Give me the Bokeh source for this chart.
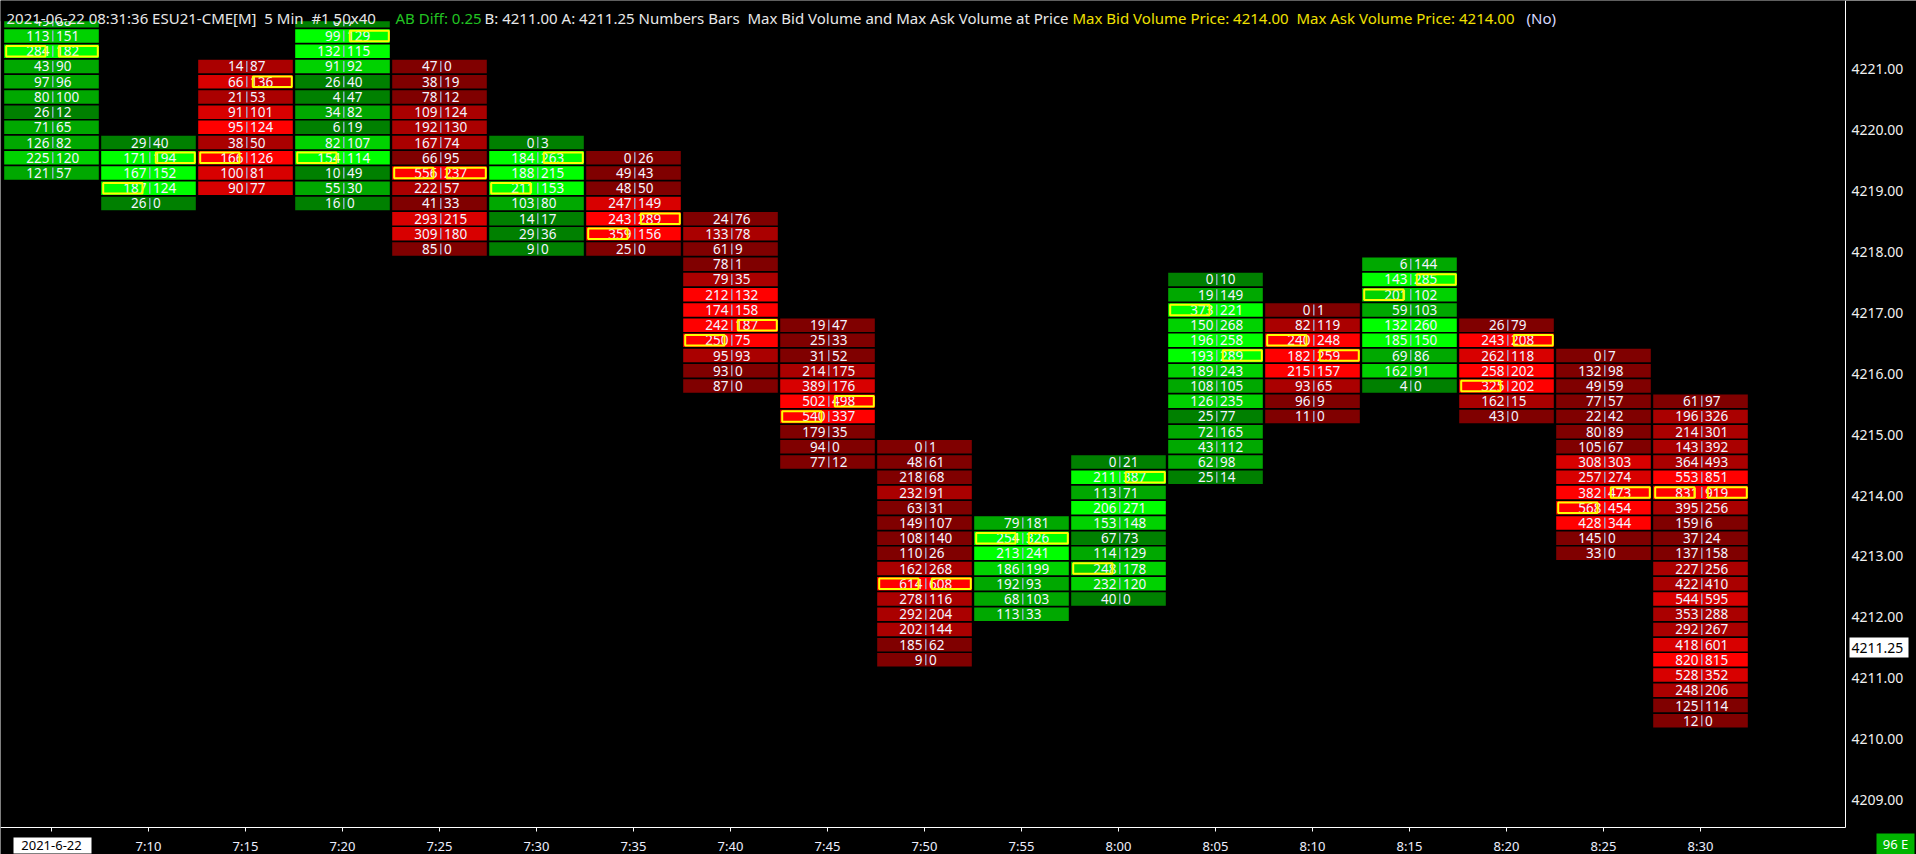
from bokeh.plotting import figure
from bokeh.models import ColumnDataSource, Range1d
from bokeh.core.properties import value
from bokeh.embed import file_html
from bokeh.resources import INLINE

# ---------------- data ----------------
times = ["7:05", "7:10", "7:15", "7:20", "7:25", "7:30", "7:35", "7:40", "7:45",
         "7:50", "7:55", "8:00", "8:05", "8:10", "8:15", "8:20", "8:25", "8:30"]
date_label = "2021-6-22"
top_prices = [4221.75, 4219.75, 4221.00, 4221.75, 4221.00, 4219.75, 4219.50, 4218.50, 4216.75,
              4214.75, 4213.50, 4214.50, 4217.50, 4217.00, 4217.75, 4216.75, 4216.25, 4215.50]
directions = ["up", "up", "down", "up", "down", "up", "down", "down", "down",
              "down", "up", "up", "up", "down", "up", "down", "down", "down"]

bid_0705 = [49, 113, 284, 43, 97, 80, 26, 71, 126, 225, 121]
ask_0705 = [88, 151, 182, 90, 96, 100, 12, 65, 82, 120, 57]
bid_0710 = [29, 171, 167, 187, 26]
ask_0710 = [40, 194, 152, 124, 0]
bid_0715 = [14, 66, 21, 91, 95, 38, 166, 100, 90]
ask_0715 = [87, 136, 53, 101, 124, 50, 126, 81, 77]
bid_0720 = [0, 99, 132, 91, 26, 4, 34, 6, 82, 154, 10, 55, 16]
ask_0720 = [7, 129, 115, 92, 40, 47, 82, 19, 107, 114, 49, 30, 0]
bid_0725 = [47, 38, 78, 109, 192, 167, 66, 556, 222, 41, 293, 309, 85]
ask_0725 = [0, 19, 12, 124, 130, 74, 95, 237, 57, 33, 215, 180, 0]
bid_0730 = [0, 184, 188, 211, 103, 14, 29, 9]
ask_0730 = [3, 263, 215, 153, 80, 17, 36, 0]
bid_0735 = [0, 49, 48, 247, 243, 359, 25]
ask_0735 = [26, 43, 50, 149, 289, 156, 0]
bid_0740 = [24, 133, 61, 78, 79, 212, 174, 242, 250, 95, 93, 87]
ask_0740 = [76, 78, 9, 1, 35, 132, 158, 187, 75, 93, 0, 0]
bid_0745 = [19, 25, 31, 214, 389, 502, 540, 179, 94, 77]
ask_0745 = [47, 33, 52, 175, 176, 498, 337, 35, 0, 12]
bid_0750 = [0, 48, 218, 232, 63, 149, 108, 110, 162, 614, 278, 292, 202, 185, 9]
ask_0750 = [1, 61, 68, 91, 31, 107, 140, 26, 268, 608, 116, 204, 144, 62, 0]
bid_0755 = [79, 254, 213, 186, 192, 68, 113]
ask_0755 = [181, 326, 241, 199, 93, 103, 33]
bid_0800 = [0, 211, 113, 206, 153, 67, 114, 248, 232, 40]
ask_0800 = [21, 387, 71, 271, 148, 73, 129, 178, 120, 0]
bid_0805 = [0, 19, 373, 150, 196, 193, 189, 108, 126, 25, 72, 43, 62, 25]
ask_0805 = [10, 149, 221, 268, 258, 289, 243, 105, 235, 77, 165, 112, 98, 14]
bid_0810 = [0, 82, 240, 182, 215, 93, 96, 11]
ask_0810 = [1, 119, 248, 259, 157, 65, 9, 0]
bid_0815 = [6, 143, 201, 59, 132, 185, 69, 162, 4]
ask_0815 = [144, 285, 102, 103, 260, 150, 86, 91, 0]
bid_0820 = [26, 243, 262, 258, 325, 162, 43]
ask_0820 = [79, 208, 118, 202, 202, 15, 0]
bid_0825 = [0, 132, 49, 77, 22, 80, 105, 308, 257, 382, 568, 428, 145, 33]
ask_0825 = [7, 98, 59, 57, 42, 89, 67, 303, 274, 473, 454, 344, 0, 0]
bid_0830 = [61, 196, 214, 143, 364, 553, 831, 395, 159, 37, 137, 227, 422, 544, 353, 292, 418, 820, 528, 248, 125, 12]
ask_0830 = [97, 326, 301, 392, 493, 851, 919, 256, 6, 24, 158, 256, 410, 595, 288, 267, 601, 815, 352, 206, 114, 0]

price_ticks = [4209, 4210, 4211, 4212, 4213, 4214, 4215, 4216, 4217, 4218, 4219, 4220, 4221]
last_price = 4211.25
corner_text = "96 E"
header_parts = [
    ("2021-06-22 08:31:36 ESU21-CME[M] \u00a05 Min \u00a0#1 50x40", "#e8e8e8"),
    ("AB Diff: 0.25", "#22c322"),
    ("B: 4211.00 A: 4211.25 Numbers Bars \u00a0Max Bid Volume and Max Ask Volume at Price", "#e8e8e8"),
    ("Max Bid Volume Price: 4214.00 \u00a0Max Ask Volume Price: 4214.00", "#f0e000"),
    ("(No)", "#d8d8ff"),
]

bids = [bid_0705, bid_0710, bid_0715, bid_0720, bid_0725, bid_0730, bid_0735, bid_0740, bid_0745,
        bid_0750, bid_0755, bid_0800, bid_0805, bid_0810, bid_0815, bid_0820, bid_0825, bid_0830]
asks = [ask_0705, ask_0710, ask_0715, ask_0720, ask_0725, ask_0730, ask_0735, ask_0740, ask_0745,
        ask_0750, ask_0755, ask_0800, ask_0805, ask_0810, ask_0815, ask_0820, ask_0825, ask_0830]

# ---------------- layout (page pixels -> data) ----------------
W, H = 1916, 854
PX_BAR = 97.0              # pixels per 5-minute bar
PX_PT = 60.86              # pixels per 1.00 price
X_START = -51 / PX_BAR
X_END = X_START + W / PX_BAR
Y_TOP = 4214 + 492 / PX_PT
Y_BOT = Y_TOP - H / PX_PT
TICK = 0.25
AXIS_X = 1845              # right border line (px)
AXIS_Y = 827               # bottom border line (px)
header_x = [6, 395, 484, 1072, 1526]


def dx(px):
    return X_START + px / PX_BAR


def dy(py):
    return Y_TOP - py / PX_PT


red_pal = ["#800000", "#aa0000", "#d80000", "#ff0000"]
green_pal = ["#008000", "#00a800", "#00d200", "#00ff00"]

half_w = 47.3 / PX_BAR
half_h = 6.75 / PX_PT
inset = 1.5 / PX_PT

cells = dict(x=[], y=[], left=[], right=[], top=[], bottom=[], color=[], bid=[], ask=[], px=[], y0=[], y1=[])
boxes = dict(left=[], right=[], top=[], bottom=[])

for i, (b, a) in enumerate(zip(bids, asks)):
    tot = [u + v for u, v in zip(b, a)]
    m = max(tot)
    mb, ma = max(b), max(a)
    pal = green_pal if directions[i] == "up" else red_pal
    for k, (bb, aa) in enumerate(zip(b, a)):
        pr = top_prices[i] - TICK * k
        band = min(3, int(4 * (bb + aa) / m))
        cells["x"].append(i)
        cells["y"].append(pr)
        cells["left"].append(i - half_w)
        cells["right"].append(i + half_w)
        cells["top"].append(pr + half_h)
        cells["bottom"].append(pr - half_h)
        cells["color"].append(pal[band])
        cells["bid"].append(str(bb))
        cells["ask"].append(str(aa))
        cells["px"].append(i + 1.3 / PX_BAR)
        cells["y0"].append(pr - 5.5 / PX_PT)
        cells["y1"].append(pr + 5.5 / PX_PT)
        if bb == mb:
            boxes["left"].append(i - half_w + 2 / PX_BAR)
            boxes["right"].append(i - 6 / PX_BAR)
            boxes["top"].append(pr + half_h - inset)
            boxes["bottom"].append(pr - half_h + inset)
        if aa == ma:
            boxes["left"].append(i + 7.3 / PX_BAR)
            boxes["right"].append(i + half_w - 1 / PX_BAR)
            boxes["top"].append(pr + half_h - inset)
            boxes["bottom"].append(pr - half_h + inset)

src = ColumnDataSource(cells)
bsrc = ColumnDataSource(boxes)

p = figure(width=W, height=H, output_backend="svg", toolbar_location=None,
           x_range=Range1d(X_START, X_END), y_range=Range1d(Y_BOT, Y_TOP),
           x_axis_location=None, y_axis_location=None,
           min_border_left=0, min_border_top=0, min_border_right=0, min_border_bottom=0)
p.background_fill_color = "black"
p.border_fill_color = "black"
p.outline_line_color = None
p.grid.visible = False

FONT = value("Noto Sans")

# ---- cells ----
p.quad(left="left", right="right", top="top", bottom="bottom", fill_color="color",
       line_color=None, source=src)
p.segment(x0="px", x1="px", y0="y0", y1="y1", line_color="#9fb5e0", line_width=1.3, source=src)
p.text(x="x", y="y", text="bid", x_offset=-2, text_align="right", text_baseline="middle",
       text_color="#f4f4ff", text_font=FONT, text_font_size="13.5px", source=src)
p.text(x="x", y="y", text="ask", x_offset=4.5, text_align="left", text_baseline="middle",
       text_color="#f4f4ff", text_font=FONT, text_font_size="13.5px", source=src)
p.quad(left="left", right="right", top="top", bottom="bottom", fill_color=None,
       line_color="#ffff00", line_width=2, source=bsrc)

# ---- header strip ----
p.quad(left=[X_START], right=[dx(AXIS_X)], top=[Y_TOP], bottom=[dy(20.7)], fill_color="black", line_color=None)
p.text(x=[dx(hx) for hx in header_x], y=[dy(17)] * len(header_parts),
       text=[t for t, c in header_parts], text_color=[c for t, c in header_parts],
       text_font=FONT, text_font_size="15px", text_align="left", text_baseline="alphabetic")

# ---- price scale (right) ----
xr = dx(AXIS_X)
p.segment(x0=[xr], x1=[xr], y0=[Y_TOP], y1=[dy(AXIS_Y)], line_color="white", line_width=1)
p.text(x=[dx(1851)] * len(price_ticks), y=[t - 3 / PX_PT for t in price_ticks],
       text=[f"{t:.2f}" for t in price_ticks], text_color="#f0f0f0", text_font=FONT,
       text_font_size="14px", text_align="left", text_baseline="middle")
p.quad(left=[dx(1849)], right=[dx(1908)], top=[dy(637)], bottom=[dy(657)], fill_color="white", line_color=None)
p.text(x=[dx(1851)], y=[dy(647)], text=[f"{last_price:.2f}"], text_color="black", text_font=FONT,
       text_font_size="14px", text_align="left", text_baseline="middle")

# ---- time scale (bottom) ----
yb = dy(AXIS_Y)
p.segment(x0=[X_START], x1=[xr], y0=[yb], y1=[yb], line_color="white", line_width=1)
idx = list(range(len(times)))
p.segment(x0=idx, x1=idx, y0=[yb] * len(idx), y1=[dy(AXIS_Y + 4)] * len(idx), line_color="white", line_width=1)
p.text(x=idx[1:], y=[dy(845)] * (len(idx) - 1), text=times[1:], text_color="#eef0ff", text_font=FONT,
       text_font_size="13px", text_align="center", text_baseline="middle")
p.quad(left=[dx(13)], right=[dx(91)], top=[dy(837)], bottom=[dy(853)], fill_color="white", line_color=None)
p.text(x=[0], y=[dy(845)], text=[date_label], text_color="black", text_font=FONT,
       text_font_size="13px", text_align="center", text_baseline="middle")

# ---- corner box ----
p.quad(left=[dx(1876)], right=[dx(1914)], top=[dy(833)], bottom=[dy(854)], fill_color="#00b400", line_color=None)
p.text(x=[dx(1895)], y=[dy(843.5)], text=[corner_text], text_color="white", text_font=FONT,
       text_font_size="13px", text_align="center", text_baseline="middle")

open("out.html", "w").write(file_html(p, INLINE))
